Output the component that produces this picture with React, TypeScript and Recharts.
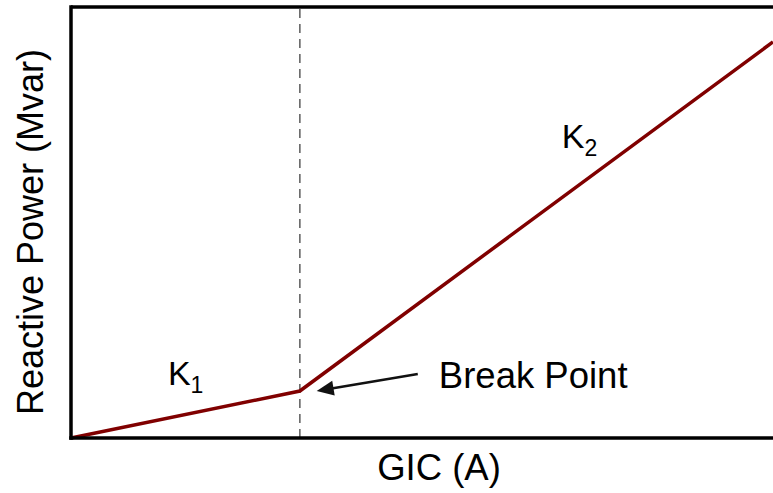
import React from 'react';
import {
  LineChart, Line, XAxis, YAxis, ReferenceLine, ReferenceDot,
} from 'recharts';

// piecewise characteristic: origin -> break point -> end (axes in % of range)
const gic = [0, 32.6, 100];
const mvar = [0, 10.9, 91.9];
const breakX = 32.6;

// annotation anchors in data units
const arrowFrom = { x: 49.4, y: 14.85 };
const arrowTo = { x: 35.0, y: 10.9 };
const k1At = { x: 13.8, y: 12.3 };
const k2At = { x: 69.9, y: 67.3 };
const breakLabelAt = { x: 52.4, y: 11.6 };

const data = gic.map((g, i) => ({ gic: g, mvar: mvar[i] }));

const FONT = '"Liberation Sans", Arial, sans-serif';
const RED = '#800000';

const Arrow = (p: any) => {
  const { x1, y1, x2, y2 } = p;
  const dx = x2 - x1, dy = y2 - y1;
  const len = Math.sqrt(dx * dx + dy * dy) || 1;
  const ux = dx / len, uy = dy / len;
  const bx = x2 - ux * 17, by = y2 - uy * 17;
  const nx = -uy * 7.5, ny = ux * 7.5;
  return (
    <g>
      <line x1={x1} y1={y1} x2={bx + ux * 2} y2={by + uy * 2} stroke="#111" strokeWidth={2.5} />
      <polygon points={`${x2},${y2} ${bx + nx},${by + ny} ${bx - nx},${by - ny}`} fill="#111" />
    </g>
  );
};

const kLabel = (sub: string) => (p: any) => (
  <text x={p.cx} y={p.cy} fontFamily={FONT} fontSize={34} fill="#000">
    K<tspan fontSize={23} dy={8}>{sub}</tspan>
  </text>
);

const plainLabel = (txt: string) => (p: any) => (
  <text x={p.cx} y={p.cy} fontFamily={FONT} fontSize={36.5} fill="#000">{txt}</text>
);

export default function App() {
  return (
    <div style={{ position: 'absolute', left: 0, top: 0, background: '#fff' }}>
      <LineChart width={773} height={493} data={data} margin={{ top: 7, right: 0, bottom: 0, left: 0 }}>
        <XAxis
          dataKey="gic" type="number" domain={[0, 100]} height={55}
          tick={false} tickLine={false}
          axisLine={{ stroke: '#000', strokeWidth: 3.5, strokeLinecap: 'square' }}
          label={{
            content: (lp: any) => (
              <text x={lp.viewBox.x + lp.viewBox.width / 2 + 17} y={480} textAnchor="middle" fontFamily={FONT} fontSize={36.5} fill="#000">GIC (A)</text>
            ),
          }}
        />
        <YAxis
          type="number" domain={[0, 100]} width={71}
          tick={false} tickLine={false}
          axisLine={{ stroke: '#000', strokeWidth: 3.5, strokeLinecap: 'square' }}
          label={{
            content: () => (
              <text x={43} y={232} transform="rotate(-90, 43, 232)" textAnchor="middle" fontFamily={FONT} fontSize={36} fill="#000">Reactive Power (Mvar)</text>
            ),
          }}
        />
        <ReferenceLine y={100} stroke="#000" strokeWidth={3.5} ifOverflow="visible" />
        <ReferenceLine x={breakX} stroke="#666" strokeWidth={1.6} strokeDasharray="9 6" />
        <Line
          type="linear" dataKey="mvar" stroke={RED} strokeWidth={3.5}
          dot={false} isAnimationActive={false}
        />
        <ReferenceLine segment={[arrowFrom, arrowTo]} shape={Arrow} ifOverflow="visible" />
        <ReferenceDot x={k1At.x} y={k1At.y} r={0} shape={kLabel('1')} ifOverflow="visible" />
        <ReferenceDot x={k2At.x} y={k2At.y} r={0} shape={kLabel('2')} ifOverflow="visible" />
        <ReferenceDot x={breakLabelAt.x} y={breakLabelAt.y} r={0} shape={plainLabel('Break Point')} ifOverflow="visible" />
      </LineChart>
    </div>
  );
}
